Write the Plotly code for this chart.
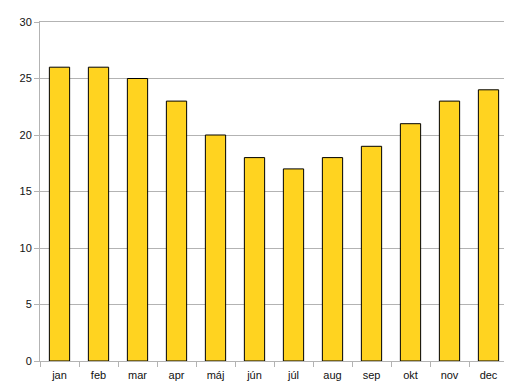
import plotly.graph_objects as go

months = ["jan", "feb", "mar", "apr", "máj", "jún", "júl", "aug", "sep", "okt", "nov", "dec"]
values = [26, 26, 25, 23, 20, 18, 17, 18, 19, 21, 23, 24]
y_ticks = [0, 5, 10, 15, 20, 25, 30]

fig = go.Figure(go.Bar(
    x=months, y=values,
    marker=dict(color="#FFD320", line=dict(color="black", width=1)),
))

# page body has an 8px default margin, so the figure is shrunk by 8px
fig.update_layout(
    width=504, height=376,
    margin=dict(l=32, r=4, t=14, b=23),
    plot_bgcolor="white", paper_bgcolor="white",
    bargap=0.48,
    showlegend=False,
    font=dict(family="Liberation Sans, Arial, sans-serif", size=11, color="#111111"),
)
fig.update_xaxes(
    showline=True, linecolor="#b3b3b3", linewidth=1, mirror=True,
    ticks="outside", tickson="boundaries", ticklen=5, tickcolor="#b3b3b3",
    ticklabelstandoff=4,
    showgrid=False, automargin=False,
)
fig.update_yaxes(
    range=[0, 30], tickvals=y_ticks,
    showline=True, linecolor="#b3b3b3", linewidth=1, mirror=True,
    ticks="outside", ticklen=5, tickcolor="#b3b3b3",
    showgrid=True, gridcolor="#b3b3b3", gridwidth=1,
    zeroline=False, automargin=False,
)

fig.write_html("out.html")
